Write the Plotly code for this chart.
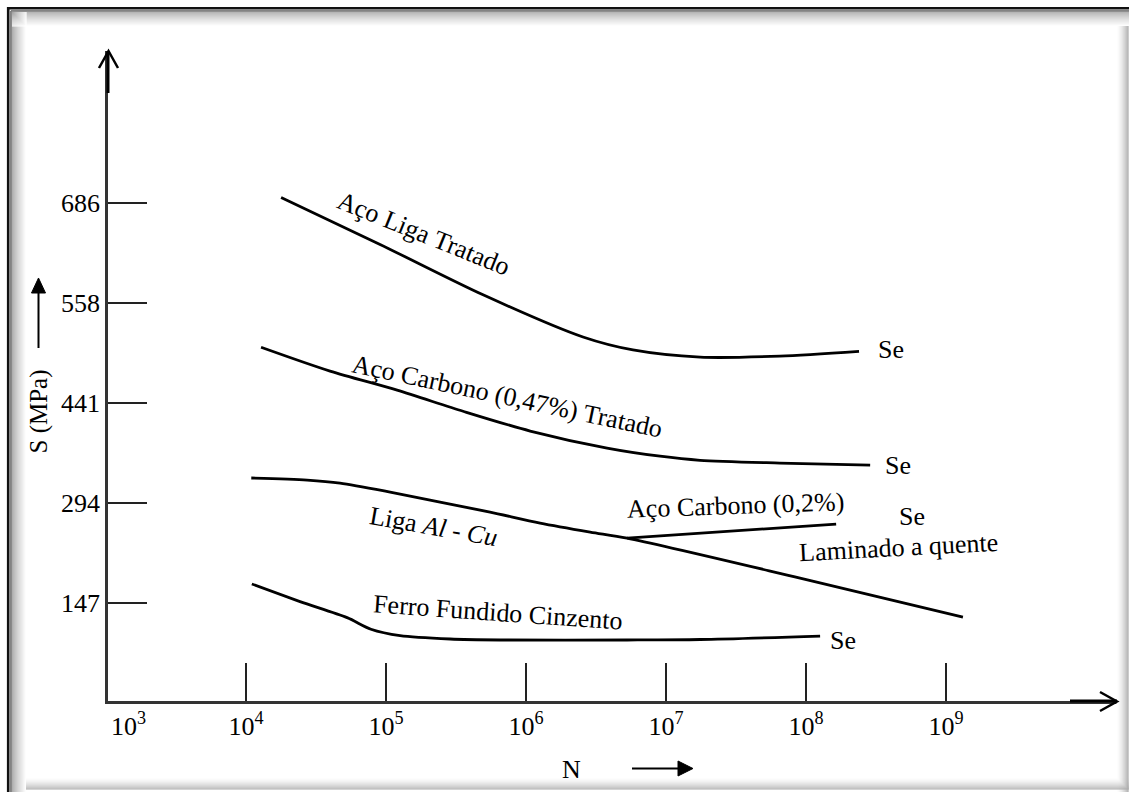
import numpy as np
import plotly.graph_objects as go

# ---------------- data ----------------
liga_N = [1.78e4, 9.06e4, 4.93e5, 2.55e6, 5.8e6, 1.75e7, 6.5e7, 2.39e8]
liga_S = [743, 674, 600, 538, 519, 508.5, 510, 517]

carb47_N = [1.28e4, 3.98e4, 1.2e5, 3.55e5, 1.07e6, 3.79e6, 9.06e6, 1.75e7, 6.5e7, 2.87e8]
carb47_S = [523, 488, 460, 429, 400, 375, 363, 357, 353, 350]

alcu_N = [1.09e4, 2.73e4, 4.69e4, 1.07e5, 2.43e5, 5.53e5, 1.26e6, 2.87e6, 5.27e6, 9.06e7, 1.32e9]
alcu_S = [331, 328, 323.6, 310.4, 295.7, 281, 264.9, 251.7, 242.8, 184.1, 126.9]

carb02_N = [5.27e6, 1.64e8]
carb02_S = [242.8, 263.4]

ferro_N = [1.1e4, 2.43e4, 5.27e4, 7.8e4, 1.26e5, 2.87e5, 6.52e5, 5.27e6, 1.75e7, 1.26e8]
ferro_S = [175.3, 149.5, 126, 109, 99.5, 94.6, 93.2, 93.2, 93.9, 99]

x_tick_vals = [1e4, 1e5, 1e6, 1e7, 1e8, 1e9]
x_tick_text = ["10<sup>4</sup>", "10<sup>5</sup>", "10<sup>6</sup>", "10<sup>7</sup>",
               "10<sup>8</sup>", "10<sup>9</sup>"]
y_tick_pos = [147, 294, 441, 588, 735]
y_tick_text = ["147", "294", "441", "558", "686"]

# label text, N, S, angle
labels = [
    ("Aço Liga Tratado", 1.84e5, 690, 22),
    ("Aço Carbono (0,47%) Tratado", 7.3e5, 450, 12),
    ("Liga <i>Al</i> - <i>Cu</i>", 2.17e5, 260.5, 10),
    ("Aço Carbono (0,2%)", 3.11e7, 290, -2),
    ("Laminado a quente", 4.6e8, 229.6, -3),
    ("Ferro Fundido Cinzento", 6.3e5, 134, 4),
    ("Se", 4.05e8, 520, 0),
    ("Se", 4.54e8, 350, 0),
    ("Se", 5.7e8, 274, 0),
    ("Se", 1.84e8, 93, 0),
]

# ---------------- layout geometry ----------------
W, H = 1129, 792
L, R, T, B = 108, 12, 51, 91
PW, PH = W - L - R, H - T - B
FONT = "Liberation Serif, Times New Roman, serif"


def px(x):
    return (x - L) / PW


def py(y):
    return (H - B - y) / PH


fig = go.Figure()
for n, s in [(liga_N, liga_S), (carb47_N, carb47_S), (alcu_N, alcu_S),
             (carb02_N, carb02_S), (ferro_N, ferro_S)]:
    fig.add_trace(go.Scatter(x=n, y=s, mode="lines",
                             line=dict(color="black", width=2.8, shape="spline", smoothing=0.8),
                             showlegend=False, hoverinfo="skip"))

shapes = []


def line(x0, y0, x1, y1, color="black", width=2):
    shapes.append(dict(type="line", xref="paper", yref="paper",
                       x0=px(x0), y0=py(y0), x1=px(x1), y1=py(y1),
                       line=dict(color=color, width=width), layer="above"))


def path(pts, fill=None, width=2):
    d = "M " + " L ".join(f"{px(a):.5f},{py(b):.5f}" for a, b in pts)
    if fill:
        d += " Z"
    shapes.append(dict(type="path", xref="paper", yref="paper", path=d,
                       fillcolor=fill if fill else "rgba(0,0,0,0)",
                       line=dict(color="black", width=width), layer="above"))


# frame with inset shadow
for i in range(15):
    g = int(150 + (255 - 150) * (i / 14) ** 0.8)
    c = f"rgb({g},{g},{g})"
    line(12 + i, 12, 12 + i, H, c, 1.2)
    line(12, 12 + i, W, 12 + i, c, 1.2)
for i in range(12):
    g = int(255 - (255 - 170) * (i / 11) ** 1.5)
    c = f"rgb({g},{g},{g})"
    line(W - 12 + i, 26, W - 12 + i, H, c, 1.2)
    line(26, H - 14 + i, W, H - 14 + i, c, 1.2)
line(8.2, 7, 8.2, H, "#111", 2.6)
line(7, 8.2, W, 8.2, "#111", 2.6)
line(10.9, 10.9, 10.9, H, "#333", 1)
line(10.9, 10.9, W, 10.9, "#333", 1)

# axis arrows
path([(99, 68), (108.5, 51), (118, 68)], width=2.5)
line(108, 51, 108, 93, "black", 3)
path([(1100, 692), (1117, 701.5), (1100, 711)], width=2.5)
line(1070, 701, 1117, 701, "black", 3)
# axis title arrows
line(38.5, 348, 38.5, 292, "black", 2)
path([(31.5, 293), (45.5, 293), (38.5, 278)], fill="black", width=1)
line(632, 768.5, 679, 768.5, "black", 2)
path([(678, 761), (678, 776), (693, 768.5)], fill="black", width=1)

annotations = []
for text, n, s, ang in labels:
    annotations.append(dict(x=np.log10(n), y=s, xref="x", yref="y", text=text,
                            showarrow=False, textangle=ang, xanchor="center", yanchor="middle",
                            font=dict(family=FONT, size=26, color="black")))
annotations.append(dict(x=px(128), y=py(724), xref="paper", yref="paper",
                        text="10<sup>3</sup>", showarrow=False, xanchor="center", yanchor="middle",
                        font=dict(family=FONT, size=26, color="black")))
annotations.append(dict(x=px(38.5), y=py(412), xref="paper", yref="paper",
                        text="S (MPa)", textangle=-90, showarrow=False,
                        xanchor="center", yanchor="middle",
                        font=dict(family=FONT, size=25, color="black")))
annotations.append(dict(x=px(571), y=py(770), xref="paper", yref="paper",
                        text="N", showarrow=False, xanchor="center", yanchor="middle",
                        font=dict(family=FONT, size=26, color="black")))

fig.update_layout(
    width=W, height=H, margin=dict(l=L, r=R, t=T, b=B, pad=0),
    paper_bgcolor="white", plot_bgcolor="white",
    shapes=shapes, annotations=annotations, showlegend=False,
    xaxis=dict(type="log", range=[3.014, 10.221], tickvals=x_tick_vals, ticktext=x_tick_text,
               ticks="inside", ticklen=38, tickwidth=2, tickcolor="#222",
               showgrid=False, zeroline=False, showline=True, linecolor="#333", linewidth=2.5,
               tickfont=dict(family=FONT, size=26, color="black")),
    yaxis=dict(range=[3.6, 958], tickvals=y_tick_pos, ticktext=y_tick_text,
               ticks="inside", ticklen=39, tickwidth=2, tickcolor="#222",
               showgrid=False, zeroline=False, showline=True, linecolor="#333", linewidth=2.5,
               tickfont=dict(family=FONT, size=26, color="black")),
)

fig.write_html("out.html", config={"displayModeBar": False},
               post_script="document.body.style.margin='0';document.body.style.overflow='hidden';")
